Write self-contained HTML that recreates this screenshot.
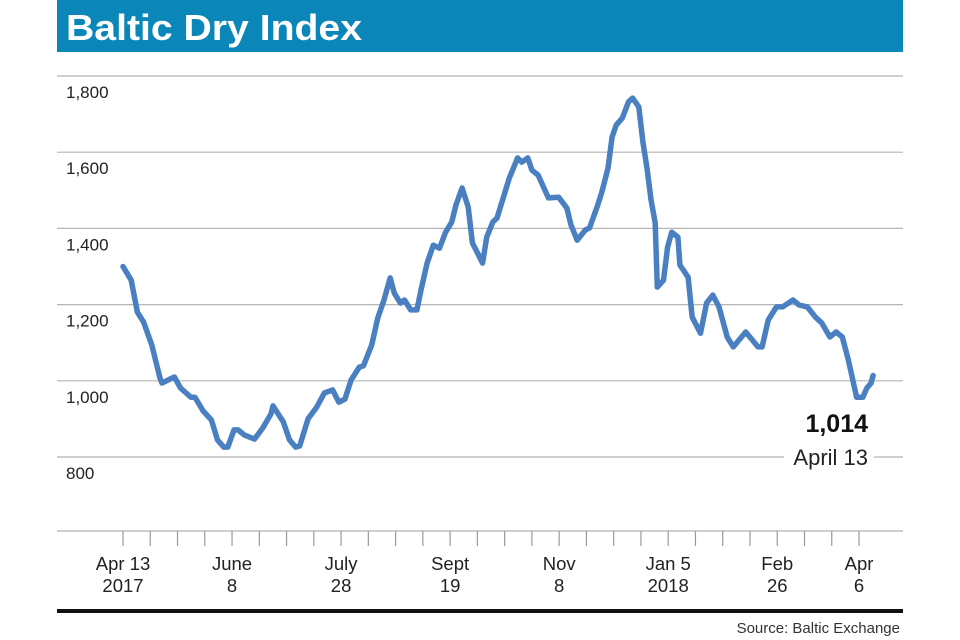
<!DOCTYPE html>
<html><head><meta charset="utf-8"><style>
body{margin:0;background:#fff;width:960px;height:640px;overflow:hidden;font-family:"Liberation Sans",sans-serif}
</style></head><body>
<svg width="960" height="640" style="display:block">
<rect x="57" y="0" width="846" height="52" fill="#0a86b8"/>
<text x="66" y="40" fill="#fff" font-size="36" font-weight="bold" textLength="296" lengthAdjust="spacingAndGlyphs" font-family="Liberation Sans, sans-serif">Baltic Dry Index</text>
<g id="grid"></g><g id="xaxis"></g>
<path id="line" fill="none" stroke="#4a80c2" stroke-width="5.5" stroke-linejoin="round" stroke-linecap="round"/>
<rect x="784" y="440" width="90" height="30" fill="#fff"/>
<text x="868" y="432" text-anchor="end" font-size="25" font-weight="bold" fill="#111">1,014</text>
<text x="868" y="465" text-anchor="end" font-size="22" fill="#222">April 13</text>
<rect x="57" y="609" width="846" height="4" fill="#111"/>
<text x="900" y="633" text-anchor="end" font-size="15" fill="#333">Source: Baltic Exchange</text>
</svg>
<script>
const days=[0,4,7,10,14,18,19,23,25,28,33,35,39,43,46,49,51,54,56,59,64,68,72,73,78,81,84,86,90,94,98,102,105,108,111,115,117,121,124,127,130,132,135,137,140,143,145,148,151,154,157,160,162,165,168,170,175,177,180,182,185,188,192,194,197,199,202,207,212,216,218,221,225,227,231,233,236,238,240,243,246,248,251,253,255,257,259,260,263,265,267,270,271,275,277,281,284,287,290,294,297,303,309,311,314,318,321,326,329,333,337,340,344,347,350,353,357,360,362,364,365];
const values=[1300,1264,1180,1154,1094,1007,994,1005,1010,981,957,957,921,897,845,826,826,871,871,858,847,876,913,934,892,845,826,829,900,929,968,976,944,952,1002,1036,1039,1094,1165,1212,1270,1230,1204,1212,1186,1186,1238,1309,1356,1348,1390,1417,1461,1506,1456,1362,1309,1377,1417,1427,1480,1532,1585,1574,1585,1553,1540,1480,1482,1453,1409,1369,1396,1401,1461,1495,1558,1640,1671,1690,1732,1742,1719,1627,1558,1474,1414,1246,1264,1351,1390,1377,1304,1272,1167,1125,1204,1225,1194,1115,1089,1128,1089,1089,1160,1194,1194,1212,1199,1194,1167,1152,1115,1128,1115,1054,957,957,981,994,1014];
const yTicks=[1800,1600,1400,1200,1000,800];
const yTickLabels=["1,800","1,600","1,400","1,200","1,000","800"];
const xLabelTicks=[0,4,8,12,16,20,24,27];
const xLabels1=["Apr 13","June","July","Sept","Nov","Jan 5","Feb","Apr"];
const xLabels2=["2017","8","28","19","8","2018","26","6"];
const NS="http://www.w3.org/2000/svg";
const x=d=>123+d*2.055;
const y=v=>76+(1800-v)*0.381;
const tx=i=>123+i*27.26;
function mk(tag,attrs,parent,text){const e=document.createElementNS(NS,tag);for(const k in attrs)e.setAttribute(k,attrs[k]);if(text!==undefined)e.textContent=text;parent.appendChild(e);return e;}
const grid=document.getElementById('grid');
yTicks.forEach((v,i)=>{
  const l=mk('line',{x1:57,x2:903,y1:y(v),y2:y(v),stroke:'#b5b5b5','stroke-width':1.2},grid);
  
  
  const t=mk('text',{x:66,y:y(v)+22,'font-size':17,fill:'#222'},grid,yTickLabels[i]);
  
  
});
const xa=document.getElementById('xaxis');
const ax=mk('line',{x1:57,x2:903,y1:531,y2:531,stroke:'#b5b5b5','stroke-width':1.2},xa);


for(let i=0;i<28;i++){
  const t=mk('line',{x1:tx(i),x2:tx(i),y1:531,y2:546,stroke:'#999','stroke-width':1.2},xa);
  
  
}
xLabelTicks.forEach((k,i)=>{
  const a=mk('text',{x:tx(k),y:570,'text-anchor':'middle','font-size':18.5,fill:'#222'},xa,xLabels1[i]);
  
  
  const b=mk('text',{x:tx(k),y:592,'text-anchor':'middle','font-size':18.5,fill:'#222'},xa,xLabels2[i]);
  
  
});
document.getElementById('line').setAttribute('d',days.map((d,i)=>(i?'L':'M')+x(d).toFixed(1)+','+y(values[i]).toFixed(1)).join(''));
</script>
</body></html>
